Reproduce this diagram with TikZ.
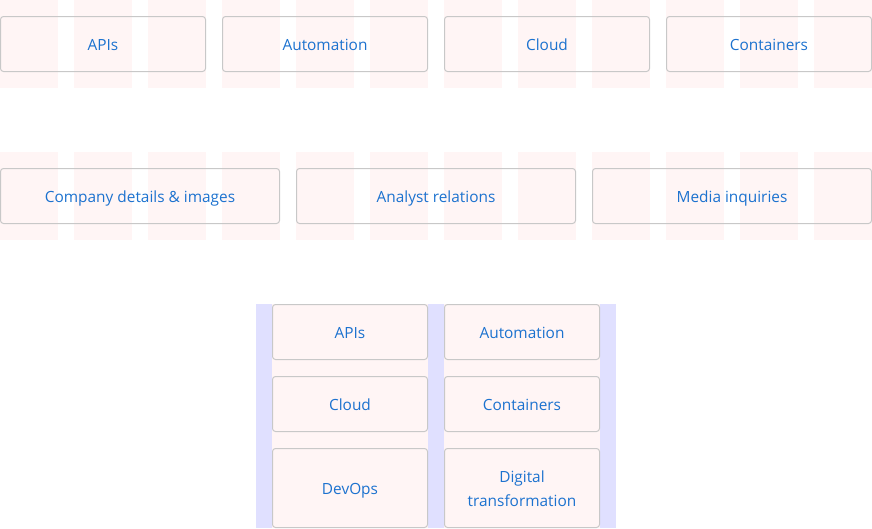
\documentclass[tikz,border=0pt]{standalone}
\usepackage{fontspec}
\setmainfont{Open Sans}
\definecolor{stripe}{HTML}{FFF5F5}
\definecolor{lav}{HTML}{E0E0FF}
\definecolor{txt}{HTML}{1C72CF}
\definecolor{edge}{HTML}{C8C8C8}
\tikzset{
  tilebox/.style={draw=edge, line width=1pt, rounded corners=3pt, anchor=north west,
    minimum height=55pt, inner sep=0pt, outer sep=0pt, text=txt, font=\fontsize{15.4pt}{24pt}\selectfont, align=center},
  oneline/.style={text height=14pt, text depth=0.6pt},
  filledbox/.style={tilebox, fill=stripe, minimum width=155pt},
}
\begin{document}
\begin{tikzpicture}[x=1pt,y=-1pt]
\useasboundingbox (0,0) rectangle (872,528);
% column stripes, rows 1 and 2
\foreach \i in {0,...,11}{
  \fill[stripe] ({74*\i},0) rectangle ({74*\i+58},88);
  \fill[stripe] ({74*\i},152) rectangle ({74*\i+58},240);
}
% row 1
\node[tilebox, oneline, minimum width=205pt] (r1a) at (0.5,16.5) {APIs};
\node[tilebox, oneline, minimum width=205pt] (r1b) at (222.5,16.5) {Automation};
\node[tilebox, oneline, minimum width=205pt] (r1c) at (444.5,16.5) {Cloud};
\node[tilebox, oneline, minimum width=205pt] (r1d) at (666.5,16.5) {Containers};
% row 2
\node[tilebox, oneline, minimum width=279pt] (r2a) at (0.5,168.5) {Company details \& images};
\node[tilebox, oneline, minimum width=279pt] (r2b) at (296.5,168.5) {Analyst relations};
\node[tilebox, oneline, minimum width=279pt] (r2c) at (592.5,168.5) {Media inquiries};
% bottom grid
\fill[lav] (256,304) rectangle (616,528);
\fill[stripe] (272,304) rectangle (428,528);
\fill[stripe] (444,304) rectangle (600,528);
\node[filledbox, oneline] (g1) at (272.5,304.5) {APIs};
\node[filledbox, oneline] (g2) at (444.5,304.5) {Automation};
\node[filledbox, oneline] (g3) at (272.5,376.5) {Cloud};
\node[filledbox, oneline] (g4) at (444.5,376.5) {Containers};
\node[filledbox, oneline, minimum height=79pt] (g5) at (272.5,448.5) {DevOps};
\node[filledbox, minimum height=79pt] (g6) at (444.5,448.5) {\rule{0pt}{14pt}Digital\\transformation};
\end{tikzpicture}
\end{document}
